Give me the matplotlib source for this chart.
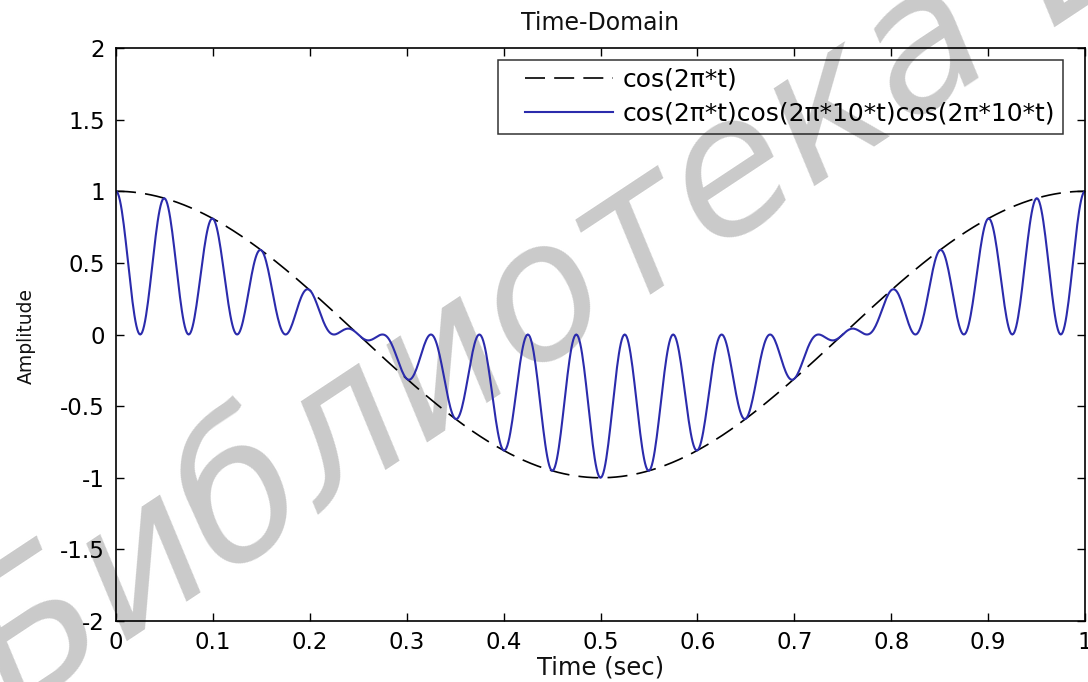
import numpy as np
import matplotlib
matplotlib.use("Agg")
import matplotlib.pyplot as plt
from matplotlib.legend_handler import HandlerLine2D

# ---- data (the plotted signals are the functions named in the legend) ----
envelope_freq_hz = 1.0      # cos(2*pi*t)
carrier_freq_hz = 10.0      # cos(2*pi*10*t)
t = np.linspace(0.0, 1.0, 1001)
envelope = np.cos(2 * np.pi * envelope_freq_hz * t)
signal = envelope * np.cos(2 * np.pi * carrier_freq_hz * t) * np.cos(2 * np.pi * carrier_freq_hz * t)

legend_labels = ["cos(2\u03c0*t)", "cos(2\u03c0*t)cos(2\u03c0*10*t)cos(2\u03c0*10*t)"]
x_ticks = [0, 0.1, 0.2, 0.3, 0.4, 0.5, 0.6, 0.7, 0.8, 0.9, 1]
x_tick_labels = ["0", "0.1", "0.2", "0.3", "0.4", "0.5", "0.6", "0.7", "0.8", "0.9", "1"]
y_ticks = [-2, -1.5, -1, -0.5, 0, 0.5, 1, 1.5, 2]
y_tick_labels = ["-2", "-1.5", "-1", "-0.5", "0", "0.5", "1", "1.5", "2"]
title_text = "Time-Domain"
x_label = "Time (sec)"
y_label = "Amplitude"
watermark = "\u0411\u0438\u0431\u043b\u0438\u043e\u0442\u0435\u043a\u0430 \u0411\u0413\u0423\u0418\u0420"

plt.rcParams["font.family"] = ["DejaVu Sans"]

W, H = 1088, 682
fig = plt.figure(figsize=(W / 100, H / 100), dpi=100, facecolor="white")

# axes box in pixels: left 116, right 1085, top 48, bottom 621
L, R, T, B = 116, 1085, 48, 621
ax = fig.add_axes([L / W, (H - B) / H, (R - L) / W, (B - T) / H])
ax.set_facecolor("none")

# watermark behind everything
fig.text(0.012, -0.05, watermark, rotation=33.5, rotation_mode="anchor",
         ha="left", va="baseline", fontsize=136, color="#cacaca",
         style="italic", weight="normal", zorder=-5)

l1, = ax.plot(t, envelope, color="black", lw=1.2, linestyle=(0, (12, 5.5)),
              label=legend_labels[0])
l2, = ax.plot(t, signal, color="#2b2bac", lw=1.5, label=legend_labels[1])

ax.set_xlim(0, 1)
ax.set_ylim(-2, 2)
ax.set_xticks(x_ticks)
ax.set_xticklabels(x_tick_labels)
ax.set_yticks(y_ticks)
ax.set_yticklabels(y_tick_labels)
ax.tick_params(direction="in", length=5.8, width=1.0, top=True, right=True,
               labelsize=16.5, colors="black")
ax.tick_params(axis="y", pad=8)
ax.tick_params(axis="x", pad=7)
for s in ax.spines.values():
    s.set_linewidth(1.2)
    s.set_color("black")

ax.set_title(title_text, fontsize=17, pad=13, color="#111111")
ax.set_xlabel(x_label, fontsize=17.5, color="#111111")
ax.xaxis.set_label_coords(0.5, (B - 656) / (B - T))
ax.set_ylabel(y_label, fontsize=13.5, color="#111111")
ax.yaxis.set_label_coords((36 - L) / (R - L), (B - 336) / (B - T))

hm = {l1: HandlerLine2D(xpad=0.76), l2: HandlerLine2D(xpad=0.76)}
leg = ax.legend(handles=[l1, l2], loc="upper right",
                bbox_to_anchor=((1063 - L) / (R - L), (B - 60) / (B - T)),
                borderaxespad=0, fontsize=18, handlelength=4.28,
                handletextpad=0.4, borderpad=0.32, labelspacing=0.40,
                fancybox=False, shadow=False, frameon=True, handler_map=hm)
fr = leg.get_frame()
fr.set_edgecolor("black")
fr.set_linewidth(1.1)
fr.set_facecolor("none")

fig.savefig("out.png", dpi=100, facecolor="white")
